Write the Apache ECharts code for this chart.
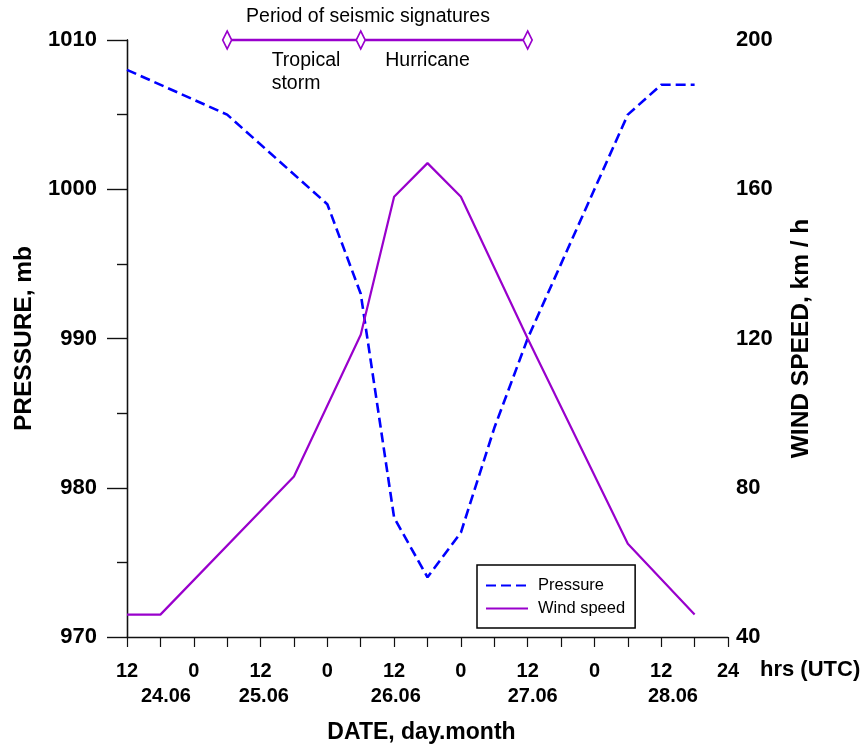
<!DOCTYPE html>
<html>
<head>
<meta charset="utf-8">
<script src="https://cdn.jsdelivr.net/npm/echarts@6/dist/echarts.min.js"></script>
<style>
html,body{margin:0;padding:0;background:#fff;}
#chart{width:868px;height:749px;}
</style>
</head>
<body>
<div id="chart"></div>
<script>
// ---- data ----
const pressureHours = [0, 18, 36, 42, 48, 54, 60, 66, 72, 78, 84, 90, 96, 102];
const pressureValues = [1008, 1005, 999, 993, 978, 974, 977, 984, 990, 995, 1000, 1005, 1007, 1007];
const windHours = [0, 6, 30, 42, 48, 54, 60, 72, 90, 102];
const windValues = [46, 46, 83, 121, 158, 167, 158, 120, 65, 46];
const hourTickLabels = ['12', '0', '12', '0', '12', '0', '12', '0', '12', '24'];
const dateLabels = ['24.06', '25.06', '26.06', '27.06', '28.06'];
const dateHours = [7, 24.6, 48.3, 72.9, 98.1];
const periodHours = [18, 42, 72];
const periodLevel = 1010;
const annoLabels = ['Period of seismic signatures', 'Tropical\nstorm', 'Hurricane'];
const annoHours = [43.3, 26, 46.4];

const FONT = 'Liberation Sans, Arial, sans-serif';
const PURPLE = '#9900cc';
const BLUE = '#0000ff';
const AX = '#111';

const zip = (a, b) => a.map((x, i) => [x, b[i]]);

const annoOffsets = [[0, -23], [0, 32], [0, 21]];
const annoAlign = ['center', 'left', 'left'];

const chart = echarts.init(document.getElementById('chart'), null, {renderer: 'canvas'});
chart.setOption({
  animation: false,
  backgroundColor: '#fff',
  grid: {left: 127, right: 140, top: 40, bottom: 111, containLabel: false},
  legend: {
    orient: 'vertical', left: 477, top: 565,
    data: ['Pressure', 'Wind speed'],
    borderColor: '#000', borderWidth: 1.5, borderRadius: 0,
    padding: [12, 10, 11, 8], itemGap: 6,
    itemWidth: 42, itemHeight: 14,
    itemStyle: {color: 'rgba(0,0,0,0)', borderWidth: 0},
    textStyle: {fontFamily: FONT, fontSize: 16.5, color: '#000', padding: [0, 0, 0, 5]}
  },
  xAxis: [{
    type: 'value', min: 0, max: 108, interval: 12,
    name: 'DATE, day.month', nameLocation: 'middle', nameGap: 84,
    nameTextStyle: {fontFamily: FONT, fontSize: 23, fontWeight: 'bold', color: '#000', padding: [0, 12, 0, 0]},
    axisLine: {show: true, onZero: false, lineStyle: {color: AX, width: 1.3}},
    axisTick: {show: true, length: 10, lineStyle: {color: AX, width: 1.2}},
    minorTick: {show: true, splitNumber: 2, length: 10, lineStyle: {color: AX, width: 1.2}},
    splitLine: {show: false},
    axisLabel: {
      margin: 24, fontFamily: FONT, fontSize: 20, fontWeight: 'bold', color: '#000',
      formatter: v => hourTickLabels[Math.round(v / 12)]
    }
  }, {
    type: 'value', min: 0, max: 108, position: 'bottom', offset: 33,
    name: 'hrs (UTC)', nameLocation: 'end', nameGap: 32,
    nameTextStyle: {fontFamily: FONT, fontSize: 22, fontWeight: 'bold', color: '#000', align: 'left'},
    axisLine: {show: false}, axisTick: {show: false}, axisLabel: {show: false}, splitLine: {show: false}
  }],
  yAxis: [{
    type: 'value', min: 970, max: 1010, interval: 10, position: 'left',
    name: 'PRESSURE, mb', nameLocation: 'middle', nameGap: 90, nameRotate: 90,
    nameTextStyle: {fontFamily: FONT, fontSize: 24.5, fontWeight: 'bold', color: '#000'},
    axisLine: {show: true, lineStyle: {color: AX, width: 1.3}},
    axisTick: {show: true, length: 20, lineStyle: {color: AX, width: 1.2}},
    minorTick: {show: true, splitNumber: 2, length: 10, lineStyle: {color: AX, width: 1.2}},
    splitLine: {show: false},
    axisLabel: {margin: 30, fontFamily: FONT, fontSize: 22, fontWeight: 'bold', color: '#000',
      formatter: v => String(v)}
  }, {
    type: 'value', min: 40, max: 200, interval: 40, position: 'right',
    name: 'WIND SPEED, km / h', nameLocation: 'middle', nameGap: 61, nameRotate: 90,
    nameTextStyle: {fontFamily: FONT, fontSize: 24.5, fontWeight: 'bold', color: '#000'},
    axisLine: {show: true, lineStyle: {color: AX, width: 1.3}},
    axisTick: {show: true, inside: true, length: 20, lineStyle: {color: AX, width: 1.2}},
    minorTick: {show: true, splitNumber: 2, length: 10, lineStyle: {color: AX, width: 1.2}},
    splitLine: {show: false},
    axisLabel: {margin: 8, fontFamily: FONT, fontSize: 22, fontWeight: 'bold', color: '#000',
      formatter: v => String(v)}
  }],
  series: [{
    name: 'Pressure', type: 'line', xAxisIndex: 0, yAxisIndex: 0,
    data: zip(pressureHours, pressureValues),
    symbol: 'none', color: BLUE,
    lineStyle: {color: BLUE, width: 2.6, type: [10, 5]}
  }, {
    name: 'Wind speed', type: 'line', xAxisIndex: 0, yAxisIndex: 1,
    data: zip(windHours, windValues),
    symbol: 'none', color: PURPLE,
    lineStyle: {color: PURPLE, width: 2.2}
  }, {
    name: 'period', type: 'line', xAxisIndex: 0, yAxisIndex: 0, clip: false, silent: true, z: 5,
    data: periodHours.map(h => [h, periodLevel]),
    symbol: 'path://M0,-10 L4,0 L0,10 L-4,0 Z', symbolSize: [9, 18], showSymbol: true,
    itemStyle: {color: '#fff', borderColor: PURPLE, borderWidth: 1.8},
    lineStyle: {color: PURPLE, width: 2.6}
  }, {
    name: 'annotations', type: 'scatter', xAxisIndex: 0, yAxisIndex: 0, clip: false, silent: true,
    symbolSize: 0, itemStyle: {opacity: 1},
    data: annoLabels.map((t, i) => ({
      value: [annoHours[i], periodLevel], name: t,
      label: {offset: annoOffsets[i], align: annoAlign[i]}
    })),
    label: {
      show: true, position: 'inside', formatter: p => p.name,
      fontFamily: FONT, fontSize: 19.5, color: '#000', lineHeight: 23, opacity: 1
    }
  }, {
    name: 'dates', type: 'scatter', xAxisIndex: 0, yAxisIndex: 0, clip: false, silent: true,
    symbolSize: 0, itemStyle: {opacity: 1},
    data: dateLabels.map((t, i) => ({value: [dateHours[i], 970], name: t})),
    label: {
      show: true, position: 'inside', offset: [0, 59], formatter: p => p.name,
      fontFamily: FONT, fontSize: 20, fontWeight: 'bold', color: '#000', opacity: 1
    }
  }]
});
</script>
</body>
</html>
